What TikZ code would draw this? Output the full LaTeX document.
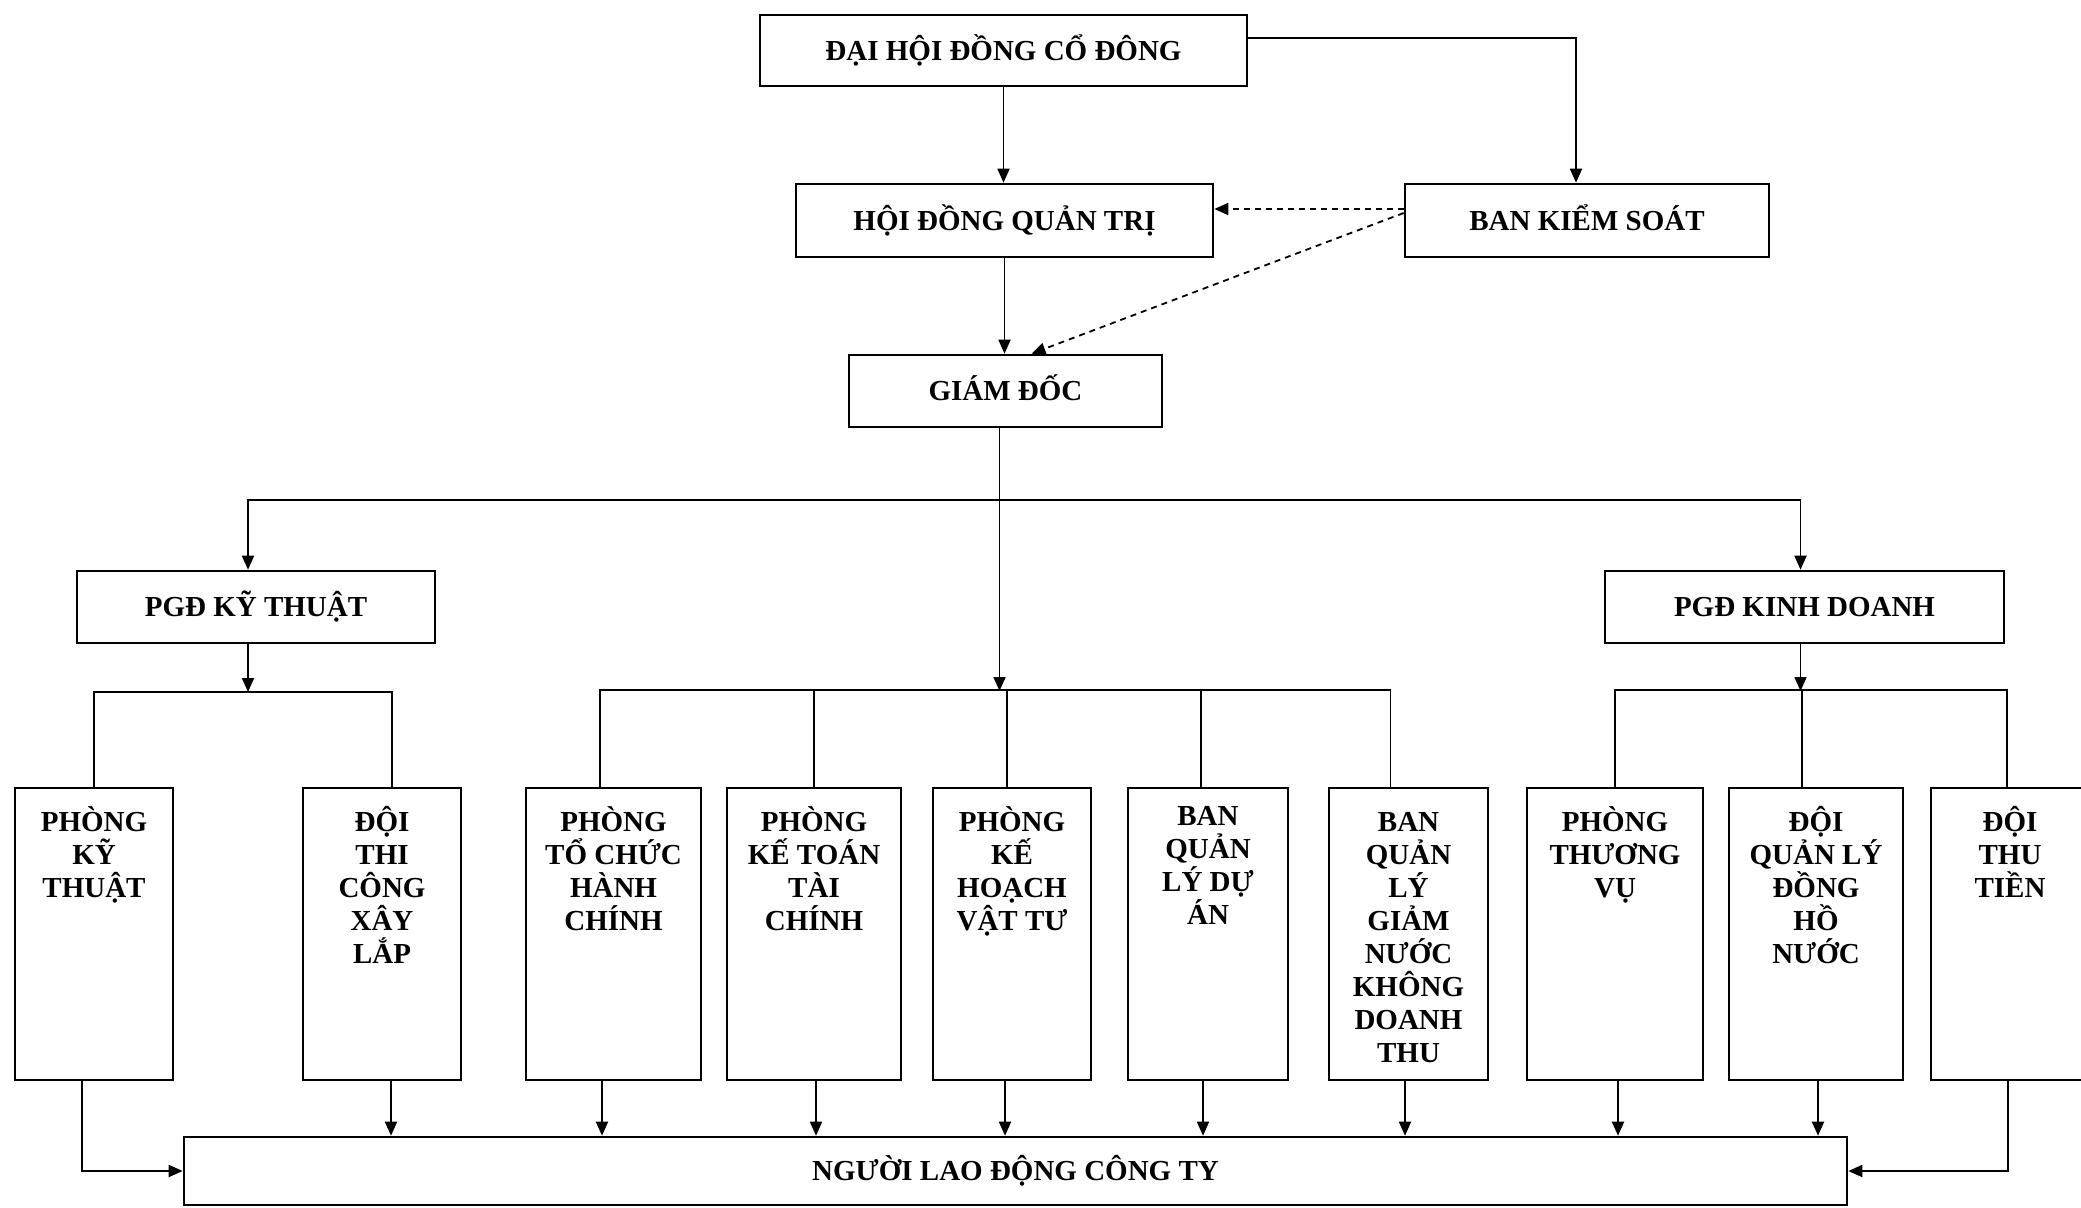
\documentclass[tikz,border=0pt]{standalone}
\usepackage{fontspec}
\setmainfont{Liberation Serif}
\usetikzlibrary{arrows.meta,calc}
\newcommand\boxfont{\fontsize{14.5}{16.5}\selectfont\bfseries}
\newcommand\colfont{\fontsize{14.5}{16.5}\selectfont\bfseries\lineskiplimit=-100pt\relax\lineskip=0pt\relax}
\newcommand\firstline{\vrule height 13pt depth 0pt width 0pt\relax}
\begin{document}
\begin{tikzpicture}[x=0.5pt,y=-0.5pt,
  box/.style={draw, line width=1.3pt, inner sep=0pt, font=\boxfont, text height=9.6pt, text depth=0pt},
  col/.style={draw, line width=1.3pt, inner sep=0pt, minimum height=146pt},
  coltext/.style={anchor=north, inner sep=0pt, align=center, font=\colfont},
  link/.style={line width=0.9pt},
  arr/.style={link, -{Triangle[length=7pt,width=6pt]}},
  darr/.style={arr, dash pattern=on 3pt off 2.5pt},
]
\fill[white] (0,0) rectangle (2081,1208);
\useasboundingbox (0,0) rectangle (2081,1208);

% top boxes
\node[box, minimum width=243.5pt, minimum height=35.5pt] (dhcd) at (1003.5,50.5) {ĐẠI HỘI ĐỒNG CỔ ĐÔNG};
\node[box, minimum width=208.5pt, minimum height=36.5pt] (hdqt) at (1004.5,220.5) {HỘI ĐỒNG QUẢN TRỊ};
\node[box, minimum width=182pt, minimum height=36.5pt] (bks) at (1587,220.5) {BAN KIỂM SOÁT};
\node[box, minimum width=156.5pt, minimum height=36pt] (gd) at (1005.5,391) {GIÁM ĐỐC};
\node[box, minimum width=179pt, minimum height=36pt] (pkt) at (256,607) {PGĐ KỸ THUẬT};
\node[box, minimum width=199.5pt, minimum height=36pt] (pkd) at (1804.5,607) {PGĐ KINH DOANH};

% columns
\node[col, minimum width=79pt]   (c1)  at (94,934) {};
\node[col, minimum width=79pt]   (c2)  at (382,934) {};
\node[col, minimum width=87.5pt] (c3)  at (613.5,934) {};
\node[col, minimum width=87pt]   (c4)  at (814,934) {};
\node[col, minimum width=79pt]   (c5)  at (1012,934) {};
\node[col, minimum width=80pt]   (c6)  at (1208,934) {};
\node[col, minimum width=79.5pt] (c7)  at (1408.5,934) {};
\node[col, minimum width=88pt]   (c8)  at (1615,934) {};
\node[col, minimum width=87pt]   (c9)  at (1816,934) {};
\node[col, minimum width=79pt]   (c10) at (2010,934) {};

\node[coltext] (t1)  at ([yshift=-9pt]c1.north)  {\firstline PHÒNG\\KỸ\\THUẬT};
\node[coltext] (t2)  at ([yshift=-9pt]c2.north)  {\firstline ĐỘI\\THI\\CÔNG\\XÂY\\LẮP};
\node[coltext] (t3)  at ([yshift=-9pt]c3.north)  {\firstline PHÒNG\\TỔ CHỨC\\HÀNH\\CHÍNH};
\node[coltext] (t4)  at ([yshift=-9pt]c4.north)  {\firstline PHÒNG\\KẾ TOÁN\\TÀI\\CHÍNH};
\node[coltext] (t5)  at ([yshift=-9pt]c5.north)  {\firstline PHÒNG\\KẾ\\HOẠCH\\VẬT TƯ};
\node[coltext] (t6)  at ([yshift=-6pt]c6.north)  {\firstline BAN\\QUẢN\\LÝ DỰ\\ÁN};
\node[coltext] (t7)  at ([yshift=-9pt]c7.north)  {\firstline BAN\\QUẢN\\LÝ\\GIẢM\\NƯỚC\\KHÔNG\\DOANH\\THU};
\node[coltext] (t8)  at ([yshift=-9pt]c8.north)  {\firstline PHÒNG\\THƯƠNG\\VỤ};
\node[coltext] (t9)  at ([yshift=-9pt]c9.north)  {\firstline ĐỘI\\QUẢN LÝ\\ĐỒNG\\HỒ\\NƯỚC};
\node[coltext] (t10) at ([yshift=-9pt]c10.north) {\firstline ĐỘI\\THU\\TIỀN};

% bottom box
\node[box, minimum width=831.5pt, minimum height=34pt] (nld) at (1015.5,1171) {NGƯỜI LAO ĐỘNG CÔNG TY};

% top connectors
\draw[arr] (dhcd.south) -- (dhcd.south |- hdqt.north);
\draw[arr] (dhcd.east |- 0,38) -| ([xshift=-5.5pt]bks.north);
\draw[arr] (hdqt.south) -- (hdqt.south |- gd.north);
\draw[darr] (bks.west |- 0,209) -- (hdqt.east |- 0,209);
\draw[darr] (bks.west |- 0,213) -- ([xshift=13pt]gd.north);

% director to deputies and buses
\coordinate (gdout) at ([xshift=-3pt]gd.south);
\draw[arr] (gdout) -- (gdout |- 0,691);
\draw[arr] (gdout |- 0,500) -| ([xshift=-4pt]pkt.north);
\draw[arr] (gdout |- 0,500) -| ([xshift=-2pt]pkd.north);
\draw[arr] ([xshift=-4pt]pkt.south) -- ([xshift=-4pt]pkt.south |- 0,692);
\draw[arr] ([xshift=-2pt]pkd.south) -- ([xshift=-2pt]pkd.south |- 0,691);

% left bus
\draw[link] (c1.north) -- (c1.north |- 0,692) -| ([xshift=5pt]c2.north);
% middle bus
\draw[link] ([xshift=-6.75pt]c3.north) -- ++(0,-97) -| ([xshift=-9pt]c7.north);
\draw[link] (c4.north) -- (c4.north |- 0,691);
\draw[link] ([xshift=-2.5pt]c5.north) -- ([xshift=-2.5pt]c5.north |- 0,691);
\draw[link] ([xshift=-3.5pt]c6.north) -- ([xshift=-3.5pt]c6.north |- 0,691);
% right bus
\draw[link] (c8.north) -- ++(0,-97) -| ([xshift=-1.5pt]c10.north);
\draw[link] ([xshift=-7pt]c9.north) -- ([xshift=-7pt]c9.north |- 0,691);

% to workers
\draw[arr] ([xshift=-6pt]c1.south) |- (nld.west);
\draw[arr] ([xshift=4.5pt]c2.south) -- ([xshift=4.5pt]c2.south |- nld.north);
\draw[arr] ([xshift=-5.75pt]c3.south) -- ([xshift=-5.75pt]c3.south |- nld.north);
\draw[arr] ([xshift=1pt]c4.south) -- ([xshift=1pt]c4.south |- nld.north);
\draw[arr] ([xshift=-3.5pt]c5.south) -- ([xshift=-3.5pt]c5.south |- nld.north);
\draw[arr] ([xshift=-2.5pt]c6.south) -- ([xshift=-2.5pt]c6.south |- nld.north);
\draw[arr] ([xshift=-1.75pt]c7.south) -- ([xshift=-1.75pt]c7.south |- nld.north);
\draw[arr] ([xshift=1.5pt]c8.south) -- ([xshift=1.5pt]c8.south |- nld.north);
\draw[arr] ([xshift=1pt]c9.south) -- ([xshift=1pt]c9.south |- nld.north);
\draw[arr] ([xshift=-1pt]c10.south) |- (nld.east);
\end{tikzpicture}
\end{document}
